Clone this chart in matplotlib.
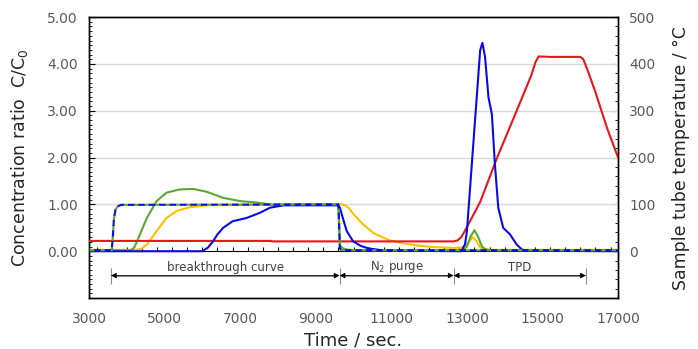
import matplotlib
matplotlib.use("Agg")
import matplotlib.pyplot as plt
from matplotlib.ticker import MultipleLocator, FixedLocator

# ---- data ----
t_temp = [3000, 7800, 7850, 12650, 12750, 12850, 12950, 13350, 13800, 14250, 14700,
          14820, 14900, 15200, 16000, 16080, 16200, 16400, 16700, 17000]
temp = [22, 22, 21, 21, 23, 30, 44, 105, 200, 287, 375, 405, 416, 415, 415, 410,
        385, 340, 265, 200]

t_blue = [3000, 6000, 6150, 6280, 6400, 6550, 6800, 7170, 7520, 7790, 8150, 9580,
          9640, 9720, 9820, 9990, 10200, 10400, 10800, 12850, 12950, 13000, 13130,
          13260, 13350, 13410, 13480, 13570, 13660, 13740, 13830, 13960, 14140,
          14320, 14450, 14550, 17000]
blue = [0, 0, 0.08, 0.21, 0.36, 0.5, 0.64, 0.71, 0.82, 0.93, 0.98, 0.98, 0.93, 0.7,
        0.43, 0.21, 0.11, 0.06, 0.015, 0, 0.15, 0.43, 1.86, 3.29, 4.29, 4.45, 4.15,
        3.29, 2.93, 1.86, 0.93, 0.5, 0.36, 0.14, 0.04, 0.01, 0]

t_blank = [3000, 3600, 3630, 3660, 3700, 3760, 3850, 9600, 9620, 9640, 9700, 17000]
blank = [0.02, 0.02, 0.3, 0.7, 0.88, 0.96, 0.99, 1.0, 0.5, 0.05, 0.02, 0.02]

t_green = [3000, 4100, 4200, 4350, 4530, 4790, 5050, 5400, 5760, 6110, 6550, 7000,
           7440, 7880, 8300, 9600, 9620, 9640, 9700, 9800, 10000, 12900, 13000,
           13100, 13200, 13300, 13400, 13500, 13650, 17000]
green = [0.02, 0.02, 0.08, 0.36, 0.71, 1.07, 1.25, 1.32, 1.33, 1.27, 1.14, 1.07,
         1.04, 0.99, 1.0, 1.0, 0.5, 0.12, 0.07, 0.04, 0.02, 0.02, 0.1, 0.32, 0.45,
         0.3, 0.1, 0.04, 0.02, 0.02]

t_yellow = [3000, 4250, 4400, 4530, 4790, 5050, 5320, 5670, 6110, 9700, 9780, 9880,
            10000, 10130, 10260, 10520, 10790, 10970, 11300, 11700, 12100, 12600,
            12900, 13050, 13150, 13250, 13350, 13450, 13600, 17000]
yellow = [0.03, 0.03, 0.06, 0.14, 0.43, 0.71, 0.86, 0.94, 0.98, 1.0, 0.98, 0.92,
          0.79, 0.68, 0.57, 0.39, 0.29, 0.23, 0.17, 0.12, 0.09, 0.07, 0.08, 0.2,
          0.3, 0.22, 0.08, 0.04, 0.03, 0.03]

# stage bars: boundaries and labels
stage_edges = [3580, 9630, 12650, 16150]
stage_names = ["breakthrough curve", "N$_2$ purge", "TPD"]

c_blue = "#0a0ae6"
c_red = "#e8161b"
c_green = "#5aa832"
c_yellow = "#ffc000"
grey = "#595959"

fig = plt.figure(figsize=(6.98, 3.49), dpi=100)
ax = fig.add_axes([0.1275, 0.146, 0.758, 0.805])
ax2 = ax.twinx()

ax.set_xlim(3000, 17000)
ax.set_ylim(-1, 5)
ax2.set_ylim(-100, 500)

ax.set_zorder(ax2.get_zorder() + 1)
ax.patch.set_visible(False)

for y in [1, 2, 3, 4]:
    ax.axhline(y, color="#d9d9d9", lw=1, zorder=0)

ax.plot(t_yellow, yellow, color=c_yellow, lw=1.5, zorder=3)
ax.plot(t_green, green, color=c_green, lw=1.5, zorder=3)
ax.plot(t_temp, [v / 100 for v in temp], color=c_red, lw=1.5, zorder=4)
ax.plot(t_blue, blue, color=c_blue, lw=1.5, zorder=5)
ax.plot(t_blank, blank, color=c_green, lw=1.5, ls=(0, (3, 2)), zorder=6)
ax.plot(t_blank, blank, color=c_blue, lw=1.5, ls=(2.5, (3, 2)), zorder=6)

# x ticks on the zero line
sec = ax.secondary_xaxis(1 / 6)
sec.xaxis.set_major_locator(MultipleLocator(2000))
sec.xaxis.set_minor_locator(MultipleLocator(400))
sec.tick_params(which="both", direction="in", length=3, labelbottom=False,
                labeltop=False, color="black", width=0.8)
sec.spines["bottom"].set_color("black")

ax.set_xticks(range(3000, 17001, 2000))
ax.tick_params(axis="x", length=0, labelsize=10, labelcolor=grey, pad=10)
ax.set_yticks([0, 1, 2, 3, 4, 5])
ax.set_yticklabels(["0.00", "1.00", "2.00", "3.00", "4.00", "5.00"])
ax.yaxis.set_minor_locator(MultipleLocator(0.1))
ax.tick_params(axis="y", which="both", direction="in", labelsize=10,
               labelcolor=grey, pad=8)
ax.tick_params(axis="y", which="major", length=4)
ax.tick_params(axis="y", which="minor", length=2.5)

ax2.set_yticks([0, 100, 200, 300, 400, 500])
ax2.yaxis.set_minor_locator(FixedLocator(range(-100, 501, 20)))
ax2.tick_params(axis="y", which="both", direction="in", labelsize=10,
                labelcolor=grey, pad=8)
ax2.tick_params(axis="y", which="major", length=4)
ax2.tick_params(axis="y", which="minor", length=2.5)

for a in (ax, ax2):
    for s in a.spines.values():
        s.set_color("black")
        s.set_linewidth(1.0)

ax.set_xlabel("Time / sec.", fontsize=13, color="#262626", labelpad=4)
ax.set_ylabel("Concentration ratio  C/C$_0$", fontsize=12.5, color="#262626",
              labelpad=12)
ax2.set_ylabel("Sample tube temperature / °C", fontsize=12.5, color="#262626",
               labelpad=12)

# stage annotations
ax.vlines(stage_edges, -0.71, -0.36, color="#8c8c8c", lw=0.8)
for i, name in enumerate(stage_names):
    x0, x1 = stage_edges[i], stage_edges[i + 1]
    ax.annotate("", xy=(x1, -0.52), xytext=(x0, -0.52),
                arrowprops=dict(arrowstyle="<|-|>", color="black", lw=0.6,
                                mutation_scale=8, shrinkA=0, shrinkB=0))
    ax.plot([x0 + 120, x1 - 120], [-0.52, -0.52], color="#8c8c8c", lw=0.8)
    ax.text((x0 + x1) / 2, -0.34, name, ha="center", va="center",
            fontsize=8.5, color="#404040")

fig.savefig("out.png", dpi=100)
